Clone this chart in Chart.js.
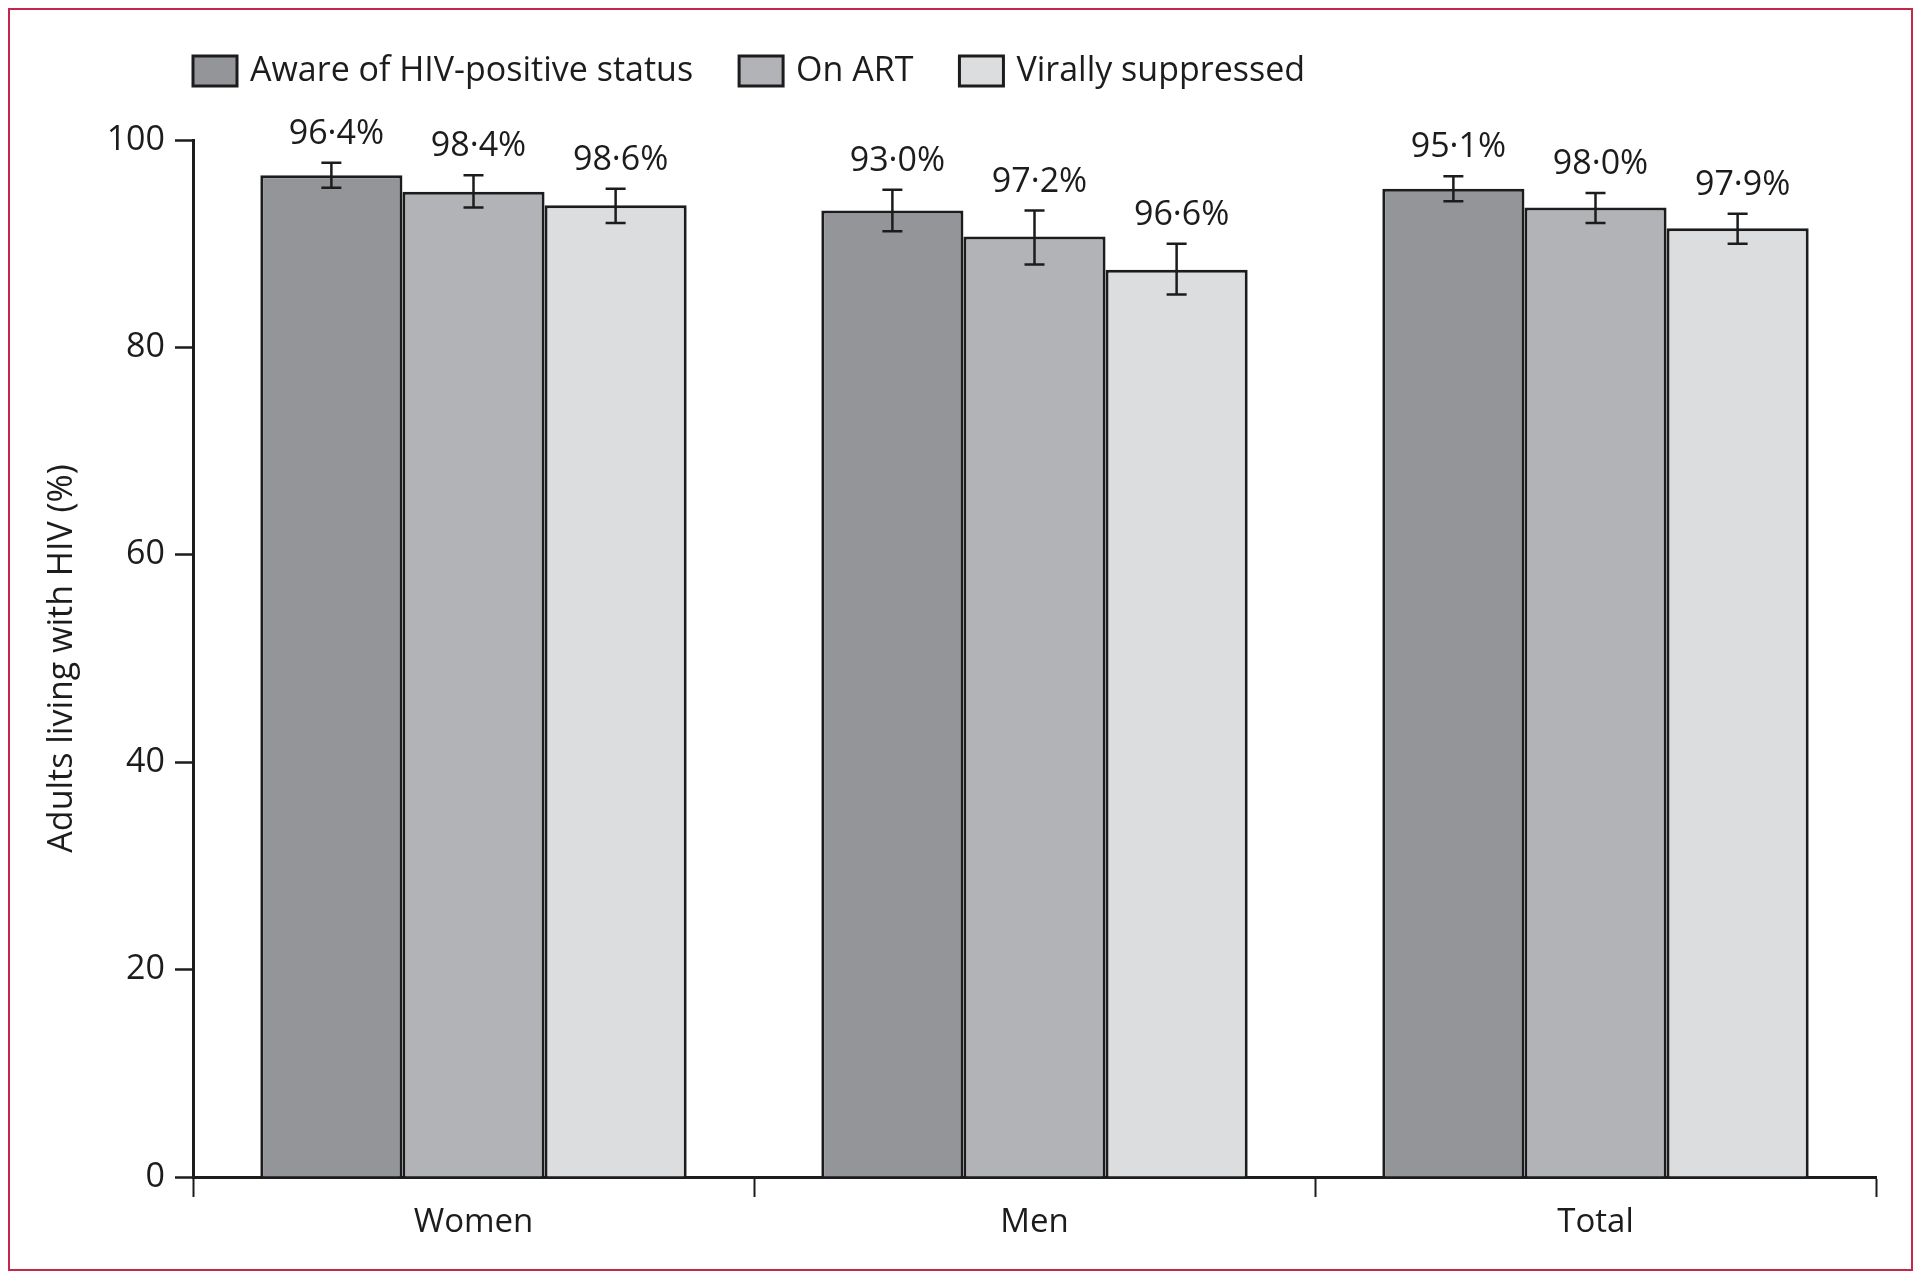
<!DOCTYPE html>
<html lang="en">
<head>
    <meta charset="UTF-8">
    <title>Adults living with HIV</title>
    <script src="https://cdn.jsdelivr.net/npm/chart.js"></script>
    <style>
        html, body {
            margin: 0;
            padding: 0;
            background: #fff;
        }
        .frame {
            position: absolute;
            left: 8px;
            top: 8px;
            width: 1901px;
            height: 1259px;
            border: 2px solid #c8254a;
            pointer-events: none;
        }
        .chart-box {
            position: absolute;
            left: 0;
            top: 0;
            width: 1920px;
            height: 1279px;
        }
    </style>
</head>
<body>
    <div class="chart-box"><canvas id="cascadeChart" width="1920" height="1279"></canvas></div>
    <div class="frame"></div>

    <script>
        // data
        const categories = ['Women', 'Men', 'Total'];
        const seriesNames = ['Aware of HIV-positive status', 'On ART', 'Virally suppressed'];
        const yTicks = [0, 20, 40, 60, 80, 100];

        const aware = [96.6, 93.2, 95.3];
        const onArt = [95.0, 90.7, 93.5];
        const suppressed = [93.7, 87.5, 91.5];

        const awareLow = [95.4, 91.2, 94.1];
        const awareHigh = [97.8, 95.2, 96.5];
        const onArtLow = [93.5, 88.0, 92.0];
        const onArtHigh = [96.6, 93.2, 94.9];
        const suppressedLow = [92.0, 85.1, 90.0];
        const suppressedHigh = [95.3, 90.0, 92.9];

        const awareText = ['96·4%', '93·0%', '95·1%'];
        const onArtText = ['98·4%', '97·2%', '98·0%'];
        const suppressedText = ['98·6%', '96·6%', '97·9%'];

        const colors = ['#939598', '#b2b3b6', '#dcdddf'];
        const ink = '#1c1c1c';
        const fontFamily = '"Open Sans", "Noto Sans", sans-serif';

        const errLow = [awareLow, onArtLow, suppressedLow];
        const errHigh = [awareHigh, onArtHigh, suppressedHigh];
        const pctText = [awareText, onArtText, suppressedText];

        // error bars + percentage labels above them
        const errorBarPlugin = {
            id: 'errorBars',
            afterDatasetsDraw(chart) {
                const ctx = chart.ctx;
                const y = chart.scales.y;
                ctx.save();
                ctx.strokeStyle = ink;
                ctx.lineWidth = 2.5;
                ctx.fillStyle = ink;
                ctx.font = '34px ' + fontFamily;
                ctx.textAlign = 'center';
                ctx.textBaseline = 'alphabetic';
                chart.data.datasets.forEach((ds, i) => {
                    const meta = chart.getDatasetMeta(i);
                    meta.data.forEach((bar, j) => {
                        const x = bar.x;
                        const yTop = y.getPixelForValue(errHigh[i][j]);
                        const yBot = y.getPixelForValue(errLow[i][j]);
                        ctx.beginPath();
                        ctx.moveTo(x, yTop);
                        ctx.lineTo(x, yBot);
                        ctx.moveTo(x - 10, yTop);
                        ctx.lineTo(x + 10, yTop);
                        ctx.moveTo(x - 10, yBot);
                        ctx.lineTo(x + 10, yBot);
                        ctx.stroke();
                        ctx.fillText(pctText[i][j], x + 5, yTop - 19);
                    });
                });
                ctx.restore();
            }
        };

        // legend sitting on the left edge of the plot area
        const legendPlugin = {
            id: 'leftLegend',
            afterDraw(chart) {
                const ctx = chart.ctx;
                let x = chart.chartArea.left;
                const boxW = 44, boxH = 30, yMid = 71;
                ctx.save();
                ctx.font = '34px ' + fontFamily;
                ctx.textBaseline = 'middle';
                chart.data.datasets.forEach((ds) => {
                    ctx.fillStyle = ds.backgroundColor;
                    ctx.fillRect(x, yMid - boxH / 2, boxW, boxH);
                    ctx.lineWidth = 3;
                    ctx.strokeStyle = ink;
                    ctx.strokeRect(x, yMid - boxH / 2, boxW, boxH);
                    x += boxW + 13;
                    ctx.fillStyle = ink;
                    ctx.fillText(ds.label, x, yMid);
                    x += ctx.measureText(ds.label).width + 46;
                });
                ctx.restore();
            }
        };

        const seriesValues = [aware, onArt, suppressed];
        const datasets = seriesNames.map((name, i) => ({
            label: name,
            data: seriesValues[i],
            backgroundColor: colors[i],
            borderColor: ink,
            borderWidth: 3,
            borderSkipped: 'bottom',
            categoryPercentage: 0.76,
            barPercentage: 1.0
        }));

        new Chart(document.getElementById('cascadeChart'), {
            type: 'bar',
            data: { labels: categories, datasets: datasets },
            options: {
                responsive: false,
                animation: false,
                devicePixelRatio: 1,
                layout: { padding: { top: 140, left: 0, right: 44, bottom: 0 } },
                plugins: {
                    legend: { display: false },
                    tooltip: { enabled: false }
                },
                scales: {
                    x: {
                        afterFit(scale) { scale.height = 102; },
                        grid: {
                            offset: true,
                            drawOnChartArea: false,
                            drawTicks: true,
                            tickLength: 20,
                            tickWidth: 2,
                            tickColor: ink
                        },
                        border: { display: true, color: ink, width: 3 },
                        ticks: {
                            color: ink,
                            padding: 6,
                            font: { family: fontFamily, size: 33 }
                        }
                    },
                    y: {
                        min: 0,
                        max: 100,
                        afterFit(scale) { scale.width = 193; },
                        afterBuildTicks(scale) {
                            scale.ticks = yTicks.map(v => ({ value: v }));
                        },
                        grid: {
                            drawOnChartArea: false,
                            drawTicks: true,
                            tickLength: 18,
                            tickWidth: 2.5,
                            tickColor: ink
                        },
                        border: { display: true, color: ink, width: 3 },
                        ticks: {
                            color: ink,
                            padding: 10,
                            font: { family: fontFamily, size: 34 }
                        },
                        title: {
                            display: true,
                            text: 'Adults living with HIV (%)',
                            color: ink,
                            padding: { top: 42, bottom: 0 },
                            font: { family: fontFamily, size: 34 }
                        }
                    }
                }
            },
            plugins: [errorBarPlugin, legendPlugin]
        });
    </script>
</body>
</html>
